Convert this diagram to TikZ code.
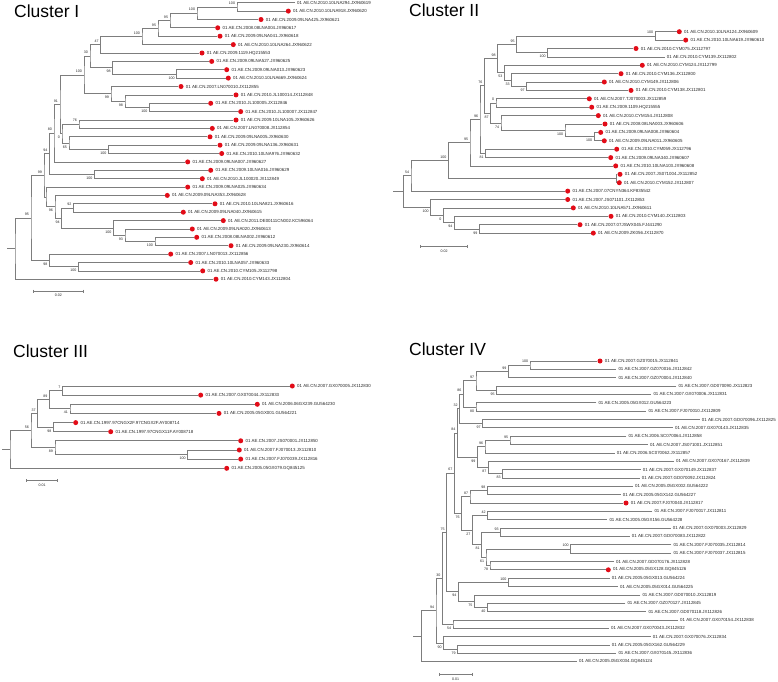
\documentclass[tikz,border=0pt]{standalone}
\usepackage{fontspec}
\setmainfont{Liberation Sans}
\usetikzlibrary{calc}
\definecolor{brc}{RGB}{125,125,125}
\definecolor{dotc}{RGB}{226,12,24}
\definecolor{txc}{RGB}{40,40,40}
\tikzset{
 br/.style={draw=brc,line width=0.75pt},
 lbl/.style={anchor=west,inner sep=0pt,text=txc,font=\fontsize{4.4}{5}\selectfont},
 dotn/.style={circle,fill=dotc,inner sep=0pt,minimum size=5pt},
 bsu/.style={anchor=south east,inner sep=0pt,font=\fontsize{3.6}{4}\selectfont,text=txc,xshift=-1.8pt,yshift=2.0pt},
 bsl/.style={anchor=north east,inner sep=0pt,font=\fontsize{3.6}{4}\selectfont,text=txc,xshift=-1.8pt,yshift=-2.4pt},
 sbl/.style={inner sep=0pt,font=\fontsize{3.6}{4}\selectfont,text=txc},
 ttl/.style={anchor=base west,inner sep=0pt,font=\fontsize{17.5}{20}\selectfont}
}
\newcommand\LF[5]{\coordinate (#1) at (#2,#3);
 \ifnum#4=1\relax
   \node[dotn] (#1d) at ([xshift=2.7pt]#1) {};
   \node[lbl] (#1t) at ([xshift=7.4pt]#1) {#5};
 \else
   \node[lbl] (#1t) at ([xshift=2pt]#1) {#5};
 \fi}
\newcommand\ND[6]{\path ($(#3)!0.5!(#4)$) coordinate (#1m);
 \coordinate (#1x) at (#2,0);
 \coordinate (#1) at (#1x |- #1m);
 \draw[br] (#3) -| (#1) |- (#4);
 \ifx&#5&\else\node[bs#6] (#1b) at (#1) {#5};\fi}
\newcommand\STUB[2]{\coordinate (#1s) at (#2,0); \draw[br] (#1) -- (#1 -| #1s);}
\newcommand\SB[5]{\coordinate (#1a) at (#2,#4); \coordinate (#1b) at (#3,#4);
 \draw[br] (#1a) -- (#1b) ([yshift=1.5pt]#1a) -- ([yshift=-1.5pt]#1a) ([yshift=1.5pt]#1b) -- ([yshift=-1.5pt]#1b);
 \node[sbl] (#1t) at ($(#1a)!0.5!(#1b)+(0,4.5)$) {#5};}
\begin{document}
\begin{tikzpicture}[x=1pt,y=-1pt]
\fill[white] (0,0) rectangle (778,681);
\useasboundingbox (0,0) rectangle (778,681);
% titles
\node[ttl] (tI) at (14,17) {Cluster I};
\node[ttl] (tII) at (409,16.7) {Cluster II};
\node[ttl] (tIII) at (13,357) {Cluster III};
\node[ttl] (tIV) at (409,355) {Cluster IV};
% ===== Cluster I =====
\LF{a1}{295}{2.7}{0}{01 AE.CN.2010.10LNA294.JX960619}
\LF{a2}{285.6}{11.1}{1}{01 AE.CN.2010.10LNA918.JX960620}
\LF{a3}{258.3}{19.5}{1}{01 AE.CN.2009.09LNA425.JX960621}
\LF{a4}{215}{27.8}{1}{01 AE.CN.2008.08LNA004.JX960617}
\LF{a5}{217.3}{36.2}{1}{01 AE.CN.2009.09LNA041.JX960618}
\LF{a6}{230.6}{44.6}{1}{01 AE.CN.2010.10LNA264.JX960622}
\LF{a7}{199.3}{53.0}{1}{01 AE.CN.2009.1119.HQ215553}
\LF{a8}{209}{61.4}{1}{01 AE.CN.2009.09LNA527.JX960625}
\LF{a9}{224}{69.7}{1}{01 AE.CN.2009.09LNA013.JX960623}
\LF{a10}{225.6}{78.1}{1}{01 AE.CN.2010.10LNA669.JX960624}
\LF{a11}{178.3}{86.5}{1}{01 AE.CN.2007.LN070010.JX112855}
\LF{a12}{233.3}{94.9}{1}{01 AE.CN.2010.JL100014.JX112848}
\LF{a13}{208}{103.3}{1}{01 AE.CN.2010.JL100005.JX112846}
\LF{a14}{238}{111.6}{1}{01 AE.CN.2010.JL100007.JX112847}
\LF{a15}{233.3}{120.0}{1}{01 AE.CN.2009.10LNA105.JX960626}
\LF{a16}{209.6}{128.4}{1}{01 AE.CN.2007.LN070008.JX112854}
\LF{a17}{207.3}{136.8}{1}{01 AE.CN.2009.09LNA005.JX960630}
\LF{a18}{217.3}{145.2}{1}{01 AE.CN.2009.09LNA136.JX960631}
\LF{a19}{219}{153.5}{1}{01 AE.CN.2010.10LNA976.JX960632}
\LF{a20}{185}{161.9}{1}{01 AE.CN.2009.09LNA007.JX960627}
\LF{a21}{208}{170.3}{1}{01 AE.CN.2009.10LNA016.JX960629}
\LF{a22}{199.6}{178.7}{1}{01 AE.CN.2010.JL100020.JX112849}
\LF{a23}{185}{187.1}{1}{01 AE.CN.2009.09LNA025.JX960634}
\LF{a24}{164.6}{195.4}{1}{01 AE.CN.2009.09LNA353.JX960628}
\LF{a25}{212.3}{203.8}{1}{01 AE.CN.2010.10LNA821.JX960616}
\LF{a26}{180.6}{212.2}{1}{01 AE.CN.2009.09LNA040.JX960615}
\LF{a27}{220.6}{220.6}{1}{01 AE.CN.2011.DE00111CN002.KC596064}
\LF{a28}{189.6}{229.0}{1}{01 AE.CN.2009.09LNA020.JX960613}
\LF{a29}{194}{237.3}{1}{01 AE.CN.2008.08LNA002.JX960612}
\LF{a30}{228.3}{245.7}{1}{01 AE.CN.2009.09LNA230.JX960614}
\LF{a31}{168}{254.1}{1}{01 AE.CN.2007.LN070013.JX112856}
\LF{a32}{188}{262.5}{1}{01 AE.CN.2010.10LNA057.JX960633}
\LF{a33}{200}{270.9}{1}{01 AE.CN.2010.CYM105.JX112798}
\LF{a34}{213.3}{279.2}{1}{01 AE.CN.2010.CYM143.JX112804}
\ND{aA}{237}{a1}{a2}{100}{u}
\ND{aB}{197}{aA}{a3}{100}{u}
\ND{aC}{170}{aB}{a4}{95}{u}
\ND{aD}{158}{aC}{a5}{95}{u}
\ND{aE}{142}{aD}{a6}{100}{u}
\ND{aF}{100.7}{aE}{a7}{47}{u}
\ND{aI}{176.7}{a9}{a10}{100}{l}
\ND{aH}{112.7}{a8}{aI}{98}{l}
\ND{aG}{90}{aF}{aH}{30}{u}
\ND{aM}{149.3}{a13}{a14}{100}{l}
\ND{aL}{125}{a12}{aM}{98}{l}
\ND{aK}{111}{a11}{aL}{99}{l}
\ND{aJ}{84}{aG}{aK}{100}{u}
\ND{aP}{79}{a15}{a16}{76}{u}
\ND{aQ}{108.3}{a18}{a19}{100}{l}
\ND{aR}{69}{a17}{aQ}{65}{l}
\ND{aS}{62}{aP}{aR}{0}{l}
\ND{aT}{60}{aJ}{aS}{91}{u}
\ND{aU}{54}{aT}{a20}{80}{u}
\ND{aW}{94.3}{a21}{a22}{100}{l}
\ND{aV}{49.5}{aU}{aW}{94}{u}
\ND{aY}{73.3}{a25}{a26}{92}{u}
\ND{ab}{155}{a29}{a30}{100}{l}
\ND{ac}{125}{a28}{ab}{93}{l}
\ND{aZ}{113.3}{a27}{ac}{100}{l}
\ND{ad}{61.7}{aY}{aZ}{94}{l}
\ND{ae}{55}{a24}{ad}{96}{l}
\ND{af}{46}{a23}{ae}{}{u}
\ND{aX}{44}{aV}{af}{99}{u}
\ND{ag}{78.3}{a32}{a33}{100}{l}
\ND{ah}{49.3}{a31}{ag}{98}{l}
\ND{ai}{31}{aX}{ah}{95}{u}
\ND{aRt}{15}{ai}{a34}{}{u}
\STUB{aRt}{7.3}
\SB{sI}{33.3}{83.3}{291}{0.02}
% ===== Cluster II =====
\LF{b1}{676.6}{31.7}{1}{01 AE.CN.2010.10LNA124.JX960609}
\LF{b2}{683}{40.1}{1}{01 AE.CN.2010.10LNA619.JX960610}
\LF{b3}{633.3}{48.5}{1}{01 AE.CN.2010.CYM075.JX112797}
\LF{b4}{664.7}{56.9}{0}{01 AE.CN.2010.CYM139.JX112802}
\LF{b5}{639.6}{65.3}{1}{01 AE.CN.2010.CYM124.JX112799}
\LF{b6}{618.3}{73.7}{1}{01 AE.CN.2010.CYM136.JX112800}
\LF{b7}{601.6}{82.0}{1}{01 AE.CN.2010.CYM149.JX112806}
\LF{b8}{628.3}{90.4}{1}{01 AE.CN.2010.CYM138.JX112801}
\LF{b9}{586.6}{98.8}{1}{01 AE.CN.2007.TJ070003.JX112859}
\LF{b10}{589}{107.2}{1}{01 AE.CN.2009.1109.HQ215555}
\LF{b11}{595.6}{115.6}{1}{01 AE.CN.2010.CYM154.JX112808}
\LF{b12}{602.3}{124.0}{1}{01 AE.CN.2008.08LNA003.JX960606}
\LF{b13}{598}{132.4}{1}{01 AE.CN.2009.09LNA008.JX960604}
\LF{b14}{601.6}{140.8}{1}{01 AE.CN.2009.09LNA011.JX960605}
\LF{b15}{614}{149.2}{1}{01 AE.CN.2010.CYM059.JX112796}
\LF{b16}{608}{157.6}{1}{01 AE.CN.2009.09LNA340.JX960607}
\LF{b17}{613}{165.9}{1}{01 AE.CN.2010.10LNA103.JX960608}
\LF{b18}{617.3}{174.3}{1}{01 AE.CN.2007.JS071004.JX112852}
\LF{b19}{616.6}{182.7}{1}{01 AE.CN.2010.CYM152.JX112807}
\LF{b20}{565}{191.1}{1}{01 AE.CN.2007.07CNYN364.KF835542}
\LF{b21}{565}{199.5}{1}{01 AE.CN.2007.JS071101.JX112853}
\LF{b22}{570.6}{207.9}{1}{01 AE.CN.2010.10LNA571.JX960611}
\LF{b23}{608.3}{216.3}{1}{01 AE.CN.2010.CYM140.JX112803}
\LF{b24}{577.3}{224.7}{1}{01 AE.CN.2007.07JSWX045.FJ441290}
\LF{b25}{590.6}{233.1}{1}{01 AE.CN.2009.ZK056.JX112870}
\ND{bA}{655}{b1}{b2}{100}{u}
\ND{bB}{547.7}{b3}{b4}{100}{l}
\ND{bC}{516.7}{bA}{bB}{95}{u}
\ND{bD}{526.7}{b7}{b8}{97}{l}
\ND{bE}{511.7}{b6}{bD}{33}{l}
\ND{bF}{504.3}{b5}{bE}{53}{l}
\ND{bG}{497.7}{bC}{bF}{98}{u}
\ND{bH}{496}{b9}{b10}{0}{u}
\ND{bI}{594}{b13}{b14}{100}{l}
\ND{bJ}{565}{b12}{bI}{100}{l}
\ND{bK}{501}{b11}{bJ}{74}{l}
\ND{bL}{490.7}{bH}{bK}{87}{l}
\ND{bM}{484.3}{bG}{bL}{76}{u}
\ND{bN}{485.7}{b15}{b16}{81}{l}
\ND{bO}{480}{bM}{bN}{96}{u}
\ND{bP}{470}{bO}{b17}{95}{u}
\ND{bQ}{616}{b18}{b19}{}{u}
\ND{bR}{448.3}{bP}{bQ}{100}{u}
\ND{bS}{411}{bR}{b20}{54}{u}
\ND{bT}{479.3}{b24}{b25}{99}{l}
\ND{bU}{454.3}{b23}{bT}{94}{l}
\ND{bV}{443.3}{b22}{bU}{0}{l}
\ND{bW}{430.7}{b21}{bV}{100}{l}
\ND{bRt}{403.3}{bS}{bW}{}{u}
\STUB{bRt}{393.3}
\SB{sII}{420.7}{467.7}{246.3}{0.02}
% ===== Cluster III =====
\LF{c1}{289.6}{386}{1}{01 AE.CN.2007.GX070005.JX112830}
\LF{c2}{198}{395.1}{1}{01 AE.CN.2007.GX070044.JX112833}
\LF{c3}{254.6}{404.3}{1}{01 AE.CN.2006.06GX239.GU564230}
\LF{c4}{216.3}{413.4}{1}{01 AE.CN.2005.05GX001.GU564221}
\LF{c5}{73}{422.6}{1}{01 AE.CN.1997.97CNGX2F.97CNGX2F.AY008714}
\LF{c6}{108}{431.7}{1}{01 AE.CN.1997.97CNGX11F.AY008718}
\LF{c7}{238}{440.8}{1}{01 AE.CN.2007.JS070001.JX112850}
\LF{c8}{236.6}{450}{1}{01 AE.CN.2007.FJ070013.JX112810}
\LF{c9}{238}{459.1}{1}{01 AE.CN.2007.FJ070039.JX112816}
\LF{c10}{224}{468.3}{1}{01 AE.CN.2005.05GX079.GQ845125}
\ND{cA}{62.3}{c1}{c2}{7}{u}
\ND{cB}{70}{c3}{c4}{41}{l}
\ND{cC}{49.3}{cA}{cB}{89}{u}
\ND{cD}{53.3}{c5}{c6}{98}{l}
\ND{cE}{37.7}{cC}{cD}{37}{u}
\ND{cF}{187.7}{c8}{c9}{100}{l}
\ND{cG}{55}{c7}{cF}{89}{l}
\ND{cH}{31}{cE}{cG}{56}{u}
\ND{cRt}{10}{cH}{c10}{}{u}
\STUB{cRt}{2}
\SB{sIII}{26.7}{57.7}{480.7}{0.01}
% ===== Cluster IV =====
\LF{d1}{597.3}{361.0}{1}{01 AE.CN.2007.GZ070015.JX112841}
\LF{d2}{616.3}{369.4}{0}{01 AE.CN.2007.GZ070016.JX112842}
\LF{d3}{616.3}{377.7}{0}{01 AE.CN.2007.GZ070004.JX112840}
\LF{d4}{676.3}{386.1}{0}{01 AE.CN.2007.GD070090.JX112823}
\LF{d5}{651.3}{394.4}{0}{01 AE.CN.2007.GX070006.JX112831}
\LF{d6}{596.3}{402.8}{0}{01 AE.CN.2005.05GX012.GU564223}
\LF{d7}{646.3}{411.1}{0}{01 AE.CN.2007.FJ070010.JX112809}
\LF{d8}{699.7}{419.5}{0}{01 AE.CN.2007.GD070096.JX112825}
\LF{d9}{673}{427.8}{0}{01 AE.CN.2007.GX070143.JX112835}
\LF{d10}{626.3}{436.2}{0}{01 AE.CN.2006.SC070064.JX112858}
\LF{d11}{648}{444.5}{0}{01 AE.CN.2007.JS071001.JX112851}
\LF{d12}{614.7}{452.9}{0}{01 AE.CN.2006.SC070062.JX112857}
\LF{d13}{674}{461.2}{0}{01 AE.CN.2007.GX070167.JX112839}
\LF{d14}{640.7}{469.6}{0}{01 AE.CN.2007.GX070149.JX112837}
\LF{d15}{639.7}{477.9}{0}{01 AE.CN.2007.GD070092.JX112824}
\LF{d16}{633}{486.3}{0}{01 AE.CN.2005.05GX002.GU564222}
\LF{d17}{620.7}{494.6}{0}{01 AE.CN.2005.05GX142.GU564227}
\LF{d18}{623.3}{503.0}{1}{01 AE.CN.2007.FJ070040.JX112817}
\LF{d19}{652.3}{511.4}{0}{01 AE.CN.2007.FJ070017.JX112811}
\LF{d20}{607.3}{519.7}{0}{01 AE.CN.2005.05GX156.GU564228}
\LF{d21}{670.7}{528.1}{0}{01 AE.CN.2007.GX070003.JX112829}
\LF{d22}{629.7}{536.4}{0}{01 AE.CN.2007.GD070083.JX112822}
\LF{d23}{671.3}{544.8}{0}{01 AE.CN.2007.FJ070035.JX112814}
\LF{d24}{671.3}{553.1}{0}{01 AE.CN.2007.FJ070037.JX112815}
\LF{d25}{614}{561.5}{0}{01 AE.CN.2007.GD070176.JX112828}
\LF{d26}{605.6}{569.8}{1}{01 AE.CN.2005.05GX128.GQ845126}
\LF{d27}{609.7}{578.2}{0}{01 AE.CN.2005.05GX013.GU564224}
\LF{d28}{618}{586.5}{0}{01 AE.CN.2005.05GX014.GU564225}
\LF{d29}{640.3}{594.9}{0}{01 AE.CN.2007.GD070010.JX112819}
\LF{d30}{625.3}{603.2}{0}{01 AE.CN.2007.GZ070127.JX112845}
\LF{d31}{646.3}{611.6}{0}{01 AE.CN.2007.GD070118.JX112826}
\LF{d32}{678}{619.9}{0}{01 AE.CN.2007.GX070154.JX112838}
\LF{d33}{609}{628.3}{0}{01 AE.CN.2007.GX070043.JX112832}
\LF{d34}{650.7}{636.6}{0}{01 AE.CN.2007.GX070076.JX112834}
\LF{d35}{609.7}{645.0}{0}{01 AE.CN.2005.05GX162.GU564229}
\LF{d36}{616.3}{653.4}{0}{01 AE.CN.2007.GX070145.JX112836}
\LF{d37}{577}{661.7}{0}{01 AE.CN.2005.05GX034.GQ845124}
\ND{dA}{530}{d1}{d2}{100}{u}
\ND{dB}{508.3}{dA}{d3}{99}{u}
\ND{dC}{496.7}{d4}{d5}{95}{l}
\ND{dD}{476}{dB}{dC}{97}{u}
\ND{dE}{476}{d6}{d7}{80}{l}
\ND{dF}{463.3}{dD}{dE}{86}{u}
\ND{dG}{482.7}{d8}{d9}{97}{l}
\ND{dH}{459.5}{dF}{dG}{32}{u}
\ND{dI}{510}{d10}{d11}{95}{u}
\ND{dJ}{485}{dI}{d12}{96}{u}
\ND{dK}{502.7}{d14}{d15}{83}{l}
\ND{dL}{488.3}{d13}{dK}{87}{l}
\ND{dM}{477.3}{dJ}{dL}{99}{l}
\ND{dN}{457.3}{dH}{dM}{84}{u}
\ND{dO}{487.3}{d16}{d17}{98}{u}
\ND{dP}{470}{dO}{d18}{87}{u}
\ND{dQ}{487.7}{d19}{d20}{42}{u}
\ND{dR}{500.7}{d21}{d22}{93}{u}
\ND{dS}{570.7}{d23}{d24}{100}{u}
\ND{dT}{490}{d25}{d26}{78}{l}
\ND{dU}{486}{dS}{dT}{61}{l}
\ND{dV}{481.7}{dR}{dU}{81}{l}
\ND{dW}{472.3}{dQ}{dV}{27}{l}
\ND{dX}{461.5}{dP}{dW}{76}{l}
\ND{dY}{454.3}{dN}{dX}{67}{u}
\ND{dZ}{508.3}{d27}{d28}{100}{u}
\ND{da}{487.3}{d30}{d31}{40}{l}
\ND{db}{474.3}{d29}{da}{75}{l}
\ND{dc}{458.3}{dZ}{db}{94}{l}
\ND{dd}{446.7}{dY}{dc}{75}{u}
\ND{de}{453}{d32}{d33}{54}{l}
\ND{df}{442.3}{dd}{de}{30}{u}
\ND{dg}{457.7}{d35}{d36}{79}{l}
\ND{dh}{443.5}{d34}{dg}{90}{l}
\ND{di}{436}{df}{dh}{94}{u}
\ND{dRt}{421.7}{di}{d37}{}{u}
\STUB{dRt}{412.7}
\SB{sIV}{439}{472.3}{674.3}{0.01}
\end{tikzpicture}
\end{document}
